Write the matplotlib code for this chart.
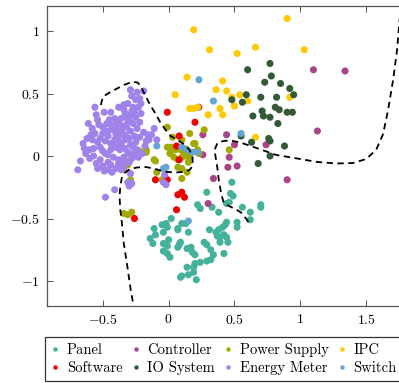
import matplotlib
matplotlib.use("Agg")
import matplotlib.pyplot as plt
from matplotlib.lines import Line2D
from matplotlib.ticker import FixedLocator, FuncFormatter

plt.rcParams['font.family'] = ['cmr10', 'DejaVu Serif']
plt.rcParams['mathtext.fontset'] = 'cm'
plt.rcParams['axes.unicode_minus'] = True

# ---------------- data ----------------
panel_x = [0.48, 0.29, 0.47, 0.49, 0.46, 0.44, 0.22, 0.24, 0.33, 0.38, 0.56, 0.62, 0.62, 0.70, 0.70,
           0.02, 0.13, -0.11, -0.05, -0.02, -0.04, -0.10, -0.14, -0.12, -0.01, 0.07, 0.15, -0.04, -0.01,
           -0.04, -0.01, 0.01, 0.00, 0.08, 0.09, 0.07, 0.14, 0.17, 0.18, 0.20, 0.27, 0.29, 0.31, 0.36,
           0.38, 0.41, 0.43, 0.44, 0.37, 0.39, 0.44, 0.45, 0.39, 0.42, 0.32, 0.34, 0.32, 0.29, 0.42,
           0.52, 0.52, 0.24, 0.20, 0.19, 0.14, 0.19, 0.15, 0.10, 0.09, 0.21, 0.07, 0.10]
panel_y = [-0.21, -0.29, -0.30, -0.32, -0.37, -0.38, -0.39, -0.42, -0.41, -0.45, -0.41, -0.45, -0.51, -0.39, -0.41,
           -0.50, -0.54, -0.58, -0.55, -0.54, -0.61, -0.63, -0.66, -0.70, -0.57, -0.59, -0.61, -0.70, -0.72,
           -0.76, -0.78, -0.81, -0.67, -0.71, -0.69, -0.73, -0.74, -0.73, -0.77, -0.79, -0.69, -0.71, -0.59, -0.61,
           -0.59, -0.57, -0.55, -0.53, -0.64, -0.69, -0.65, -0.69, -0.65, -0.63, -0.75, -0.79, -0.83, -0.84, -0.78,
           -0.57, -0.53, -0.85, -0.86, -0.89, -0.89, -0.93, -0.95, -0.96, -0.97, -0.99, -0.58, -0.54]

controller_x = [1.10, 1.34, 1.13, 0.90, 0.23, 0.26, 0.44, 0.50, 0.74, 0.26, 0.46, 0.45, 0.52, 0.34, 0.30]
controller_y = [0.69, 0.68, 0.20, -0.19, 0.39, 0.17, 0.17, 0.09, 0.09, 0.01, -0.01, -0.09, -0.08, -0.18, -0.38]

power_x = [-0.01, 0.03, 0.16, 0.27, 0.10, 0.19, -0.01, 0.02, 0.05, 0.09, 0.12, 0.12, 0.13, 0.10, 0.15,
           0.16, 0.15, 0.22, 0.23, 0.01, 0.04, 0.07, 0.14, 0.10, 0.10, 0.07, -0.11, -0.10, -0.09, -0.05,
           -0.26, -0.22, -0.17, -0.17, -0.35, -0.31, -0.34, -0.30, -0.29, -0.29, -0.34, -0.31, -0.28, 0.46, 0.20]
power_y = [0.23, 0.15, 0.18, 0.21, 0.13, 0.10, 0.07, 0.07, 0.05, 0.05, 0.06, 0.02, 0.00, -0.01, 0.03,
           -0.01, -0.05, 0.05, 0.02, 0.02, -0.01, -0.03, -0.13, -0.18, -0.10, -0.09, -0.03, -0.04, -0.13, -0.19,
           0.00, 0.04, 0.03, 0.05, -0.04, -0.07, -0.11, -0.04, -0.19, -0.22, -0.46, -0.47, -0.45, 0.05, 0.10]

ipc_x = [0.90, 0.19, 0.31, 0.52, 0.66, 1.03, 0.14, 0.41, 0.36, 0.44, 0.05, 0.54, 0.48, 0.60, 0.16,
         0.19, 0.22, 0.39, 0.50, 0.30, 0.41, 0.92, 0.66]
ipc_y = [1.10, 1.01, 0.85, 0.82, 0.87, 0.85, 0.63, 0.60, 0.53, 0.52, 0.49, 0.49, 0.47, 0.44, 0.38,
         0.38, 0.39, 0.38, 0.40, 0.33, 0.33, 0.47, 0.15]

software_x = [-0.01, 0.20, 0.08, 0.06, 0.08, -0.10, -0.01, 0.07, 0.10, 0.12, 0.06, -0.26]
software_y = [0.35, 0.27, 0.16, 0.08, -0.03, -0.19, -0.19, -0.31, -0.29, -0.33, -0.43, -0.50]

io_x = [0.77, 0.60, 0.78, 0.73, 0.85, 0.92, 0.95, 0.59, 0.48, 0.56, 0.70, 0.82, 0.81, 0.84, 0.71,
        0.72, 0.64, 0.77, 0.90, 0.94, 0.83, 0.55, 0.63, 0.76, 0.77, 0.88, 0.77, 0.68]
io_y = [0.74, 0.69, 0.64, 0.59, 0.58, 0.54, 0.49, 0.49, 0.45, 0.43, 0.47, 0.47, 0.39, 0.37, 0.36,
        0.32, 0.32, 0.31, 0.35, 0.35, 0.26, 0.16, 0.11, 0.14, 0.12, 0.08, 0.00, -0.06]

energy_x = [-0.29, -0.24, -0.19, -0.22, -0.21, -0.56, -0.49, -0.44, -0.55, -0.54, -0.61, -0.34, -0.31, -0.27, -0.26,
            -0.29, -0.33, -0.30, -0.27, -0.32, -0.45, -0.44, -0.47, -0.50, -0.40, -0.38, -0.35, -0.39, -0.41, -0.44,
            -0.59, -0.56, -0.58, -0.54, -0.52, -0.57, -0.64, -0.63, -0.67, -0.69, -0.60, -0.55, -0.54, -0.50, -0.46,
            -0.44, -0.46, -0.40, -0.38, -0.34, -0.31, -0.27, -0.25, -0.22, -0.19, -0.16, -0.15, -0.24, -0.20, -0.27,
            -0.30, -0.34, -0.36, -0.48, -0.44, -0.40, -0.36, -0.33, -0.11, -0.04, -0.41, -0.48, -0.29, -0.31,
            -0.36, -0.38, -0.35, -0.31, -0.29, -0.36, -0.40, -0.33, -0.30, -0.38, -0.42, -0.37, -0.33, -0.29, -0.26,
            -0.24, -0.22, -0.25, -0.28, -0.32, -0.41, -0.47, -0.50, -0.52, -0.48, -0.46, -0.50, -0.46, -0.42, -0.38,
            -0.33, -0.28, -0.23, -0.18, -0.17, -0.13, -0.21, -0.23, -0.25, -0.28, -0.62, -0.65, -0.60, -0.57, -0.52,
            -0.49, -0.43, -0.58, -0.53, -0.43, -0.40, -0.30, -0.25, -0.34, -0.38, -0.09, -0.03, -0.02, -0.30, -0.28]
energy_y = [0.53, 0.51, 0.52, 0.46, 0.42, 0.39, 0.35, 0.35, 0.33, 0.29, 0.26, 0.41, 0.42, 0.39, 0.35,
            0.33, 0.34, 0.29, 0.26, 0.23, 0.29, 0.25, 0.20, 0.18, 0.22, 0.19, 0.17, 0.15, 0.13, 0.10,
            0.17, 0.18, 0.13, 0.11, 0.07, 0.06, 0.06, 0.02, -0.04, -0.11, -0.02, -0.06, -0.10, -0.08, -0.05,
            -0.07, -0.11, -0.10, -0.03, -0.01, 0.03, 0.07, 0.11, 0.15, 0.19, 0.17, 0.13, 0.05, 0.02, 0.01,
            -0.05, -0.09, -0.11, 0.02, 0.05, 0.07, 0.10, 0.13, 0.22, -0.21, -0.27, -0.33, -0.14, -0.21,
            0.30, 0.26, 0.24, 0.27, 0.20, 0.20, 0.17, 0.17, 0.14, 0.12, 0.08, 0.05, 0.06, 0.09, 0.16,
            0.22, 0.27, 0.31, 0.36, 0.31, 0.30, 0.26, 0.23, 0.14, 0.12, 0.16, 0.04, 0.01, -0.01, -0.06,
            -0.04, -0.02, -0.01, 0.08, 0.12, 0.17, 0.34, 0.39, 0.45, 0.48, 0.14, 0.10, 0.05, 0.00, -0.03,
            -0.12, -0.13, 0.22, 0.25, 0.21, 0.25, 0.02, 0.04, 0.37, 0.39, 0.13, -0.15, -0.23, -0.24, -0.22]

switch_x = [0.23, 0.34, 0.55, -0.09, -0.04, -0.02, 0.10, 0.18, 0.14, 0.22, 0.15]
switch_y = [0.61, 0.44, 0.18, 0.08, -0.10, -0.09, 0.07, 0.03, 0.05, 0.03, -0.52]

# decision boundaries (dashed)
bound1_x = [-0.515, -0.500, -0.455, -0.402, -0.341, -0.275, -0.237, -0.212, -0.187, -0.136, -0.098, -0.061,
            -0.023, 0.015, 0.068, 0.114, 0.159, 0.182, 0.182, 0.159, 0.114, 0.038, -0.038, -0.114, -0.174,
            -0.242, -0.295, -0.333, -0.356, -0.367, -0.373, -0.367, -0.356, -0.341, -0.313, -0.288, -0.265]
bound1_y = [0.408, 0.472, 0.504, 0.534, 0.568, 0.594, 0.588, 0.560, 0.504, 0.400, 0.336, 0.264,
            0.208, 0.160, 0.128, 0.096, 0.048, -0.016, -0.080, -0.112, -0.128, -0.132, -0.124, -0.100, -0.088,
            -0.092, -0.104, -0.136, -0.176, -0.240, -0.326, -0.432, -0.528, -0.696, -0.888, -1.072, -1.208]
bound2_x = [0.606, 0.558, 0.520, 0.470, 0.419, 0.399, 0.381, 0.369, 0.348, 0.371, 0.417, 0.470, 0.545,
            0.667, 0.818, 0.977, 1.129, 1.280, 1.402, 1.500, 1.576, 1.629, 1.667, 1.705, 1.735, 1.755]
bound2_y = [-0.528, -0.458, -0.432, -0.406, -0.378, -0.298, -0.192, -0.086, 0.048, 0.104, 0.120, 0.124, 0.108,
            0.064, 0.008, -0.020, -0.048, -0.060, -0.056, -0.024, 0.048, 0.176, 0.368, 0.608, 0.848, 1.100]

xticks = [-0.5, 0, 0.5, 1, 1.5]
yticks = [-1, -0.5, 0, 0.5, 1]

series = [
    ("Panel", panel_x, panel_y, "#44B29A"),
    ("Controller", controller_x, controller_y, "#AA4488"),
    ("Power Supply", power_x, power_y, "#A0AA00"),
    ("IPC", ipc_x, ipc_y, "#FFC800"),
    ("Software", software_x, software_y, "#EE0000"),
    ("IO System", io_x, io_y, "#335A37"),
    ("Energy Meter", energy_x, energy_y, "#A082EB"),
    ("Switch", switch_x, switch_y, "#64A5D2"),
]

# ---------------- figure ----------------
W, H = 399, 383
fig = plt.figure(figsize=(W / 100, H / 100), dpi=100)
ax = fig.add_axes([47 / W, 1 - 306 / H, 358.6 / W, 300 / H])
ax.set_xlim(-0.924, 1.8)
ax.set_ylim(-1.2, 1.2)

handles = {}
for name, xs, ys, col in series:
    ax.scatter(xs, ys, s=26, color=col, edgecolors='none', zorder=2)
    handles[name] = Line2D([], [], marker='o', linestyle='none', markersize=3.2,
                           markerfacecolor=col, markeredgecolor='none')

ax.plot(bound1_x, bound1_y, color='black', lw=1.3, linestyle=(0, (3.5, 2.5)), zorder=3)
ax.plot(bound2_x, bound2_y, color='black', lw=1.3, linestyle=(0, (3.5, 2.5)), zorder=3)

ax.xaxis.set_major_locator(FixedLocator(xticks))
ax.yaxis.set_major_locator(FixedLocator(yticks))
fmt = FuncFormatter(lambda v, p: r'$%s$' % ('%g' % v))
ax.xaxis.set_major_formatter(fmt)
ax.yaxis.set_major_formatter(fmt)
ax.tick_params(direction='in', top=True, right=True, length=4.5, width=0.7,
               color='#555555', labelsize=10, pad=5)
for sp in ax.spines.values():
    sp.set_color('#555555')
    sp.set_linewidth(0.9)

order = ["Panel", "Software", "Controller", "IO System", "Power Supply", "Energy Meter", "IPC", "Switch"]
leg = fig.legend([handles[n] for n in order], order, ncol=4, loc='upper left',
                 bbox_to_anchor=(45 / W, 1 - 337 / H), frameon=True, fancybox=False,
                 edgecolor='black', fontsize=10.5, handlelength=0.6, handletextpad=0.5,
                 columnspacing=0.6, borderpad=0.4, labelspacing=0.3, borderaxespad=0)
leg.get_frame().set_linewidth(0.9)

fig.savefig("out.png", dpi=100)
